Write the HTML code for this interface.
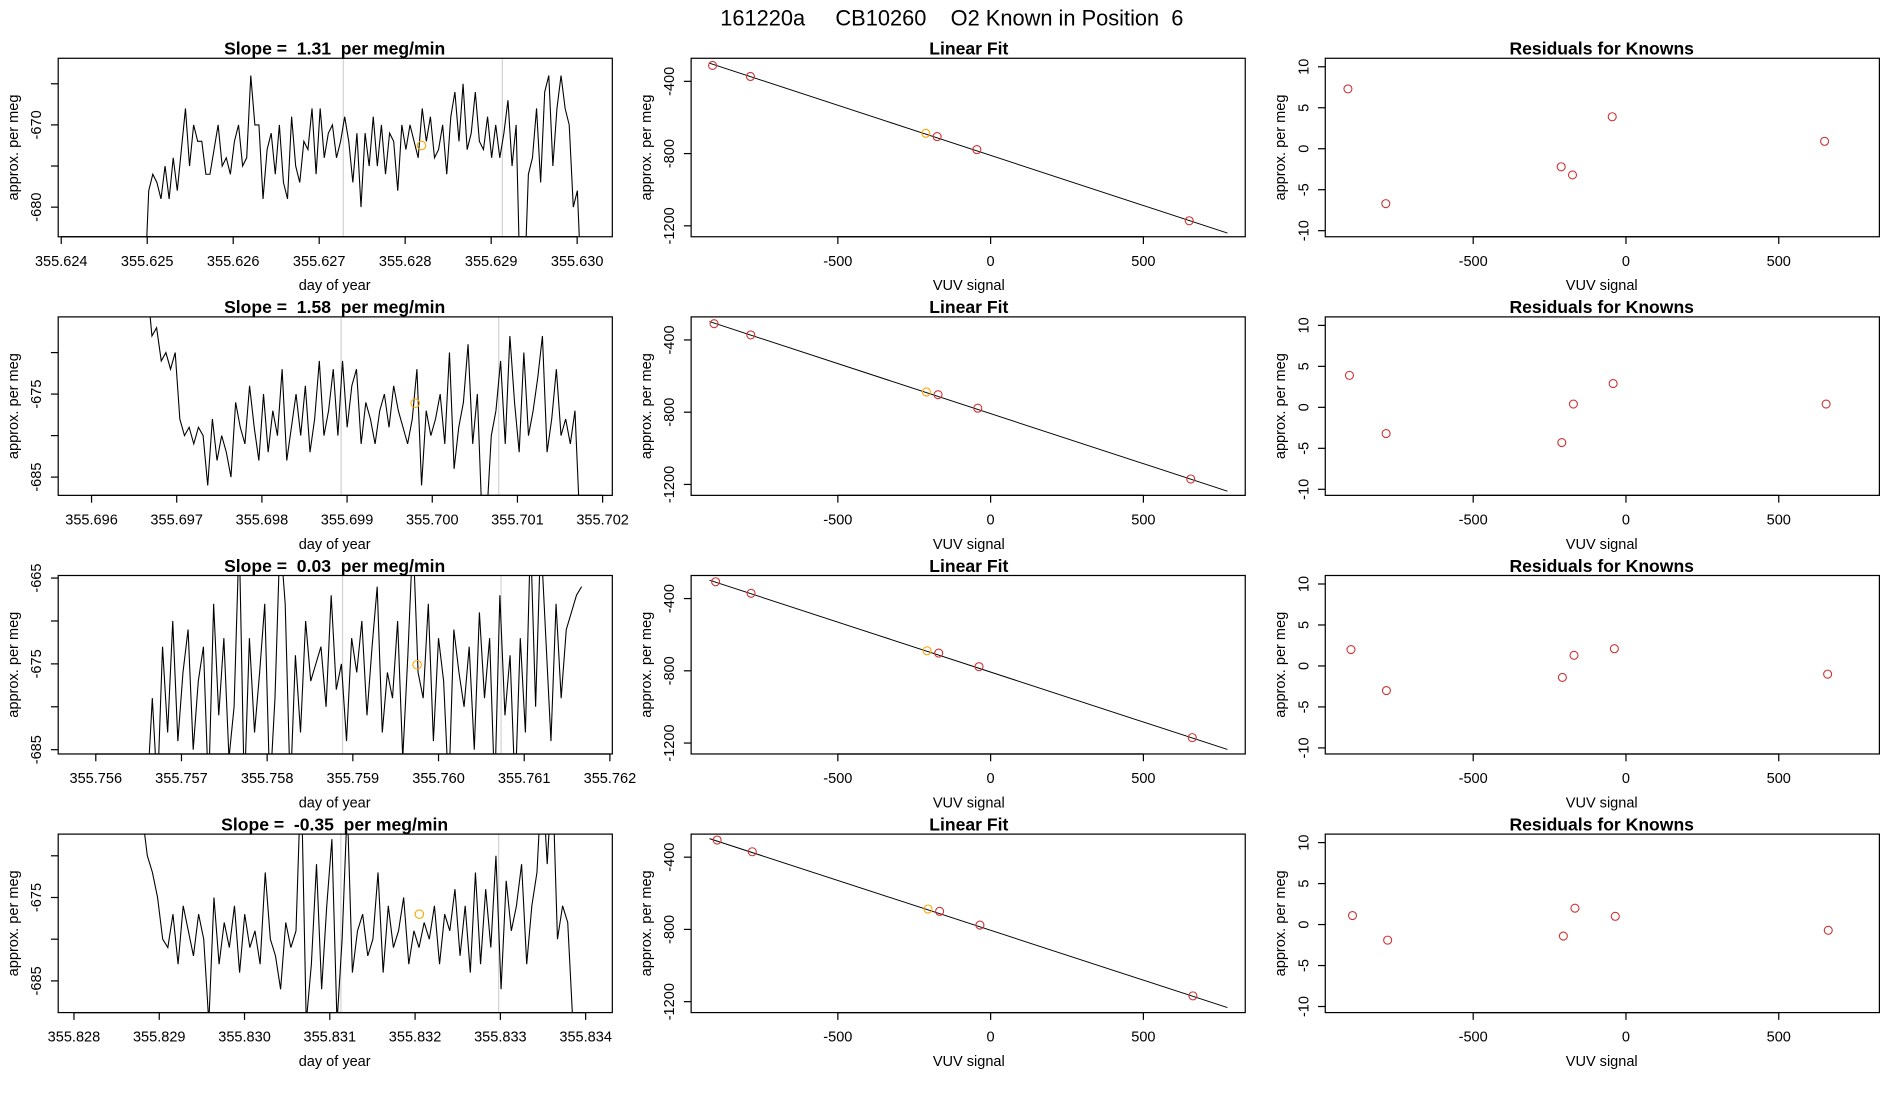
<!DOCTYPE html>
<html><head><meta charset="utf-8"><style>
html,body{margin:0;padding:0;background:#fff;}
svg{display:block;}
text{font-family:"Liberation Sans",Arial,sans-serif;fill:#000;white-space:pre;}
</style></head><body>
<svg id="fig" width="1900" height="1100" viewBox="0 0 1567 906" preserveAspectRatio="none" xmlns="http://www.w3.org/2000/svg">
<rect width="1567" height="906" fill="#fff"/>
<text x="785" y="21" font-size="18" text-anchor="middle" xml:space="preserve">161220a     CB10260    O2 Known in Position  6</text>
</svg>
<script>
// ---------- DATA ----------
const slopes = ["1.31","1.58","0.03","-0.35"];
const timeStart = [355.62497, 355.6966, 355.7566, 355.8288];
const timeEnd = [355.63005, 355.70173, 355.76167, 355.83385];
const timeTicks0 = [355.624, 355.696, 355.756, 355.828];
const yDomain0 = [[-683.6,-661.9],[-687.2,-665.7],[-685.5,-664.7],[-688.8,-667.4]];
const yTicks0 = [[-680,-675,-670,-665],[-685,-680,-675,-670],[-685,-680,-675,-670,-665],[-685,-680,-675,-670]];
const yLabels0 = [[-680,-670],[-685,-675],[-685,-675,-665],[-685,-675]];
const grayLines = [[355.62728,355.62913],[355.69893,355.70078],[355.75888,355.76073],[355.83113,355.83298]];
const orangePt = [[355.62819,-672.5],[355.6998,-676.1],[355.75975,-675.1],[355.83205,-677.0]];
const series1 = [-690,-678,-676,-677,-679,-675,-679,-674,-678,-673,-668,-675,-670,-672,-672,-676,-676,-673,-670,-675,-674,-676,-672,-670,-675,-674,-664,-670,-670,-679,-673,-671,-676,-670,-677,-679,-669,-675,-677,-672,-673,-668,-676,-668,-674,-671,-670,-674,-672,-669,-672,-677,-671,-680,-671,-675,-669,-675,-670,-676,-671,-672,-678,-670,-673,-670,-672,-674,-668,-672,-669,-674,-673,-670,-676,-669,-666,-672,-665,-673,-671,-666,-672,-673,-669,-674,-670,-674,-671,-667,-675,-670,-690,-690,-676,-674,-668,-677,-666,-664,-675,-668,-664,-668,-670,-680,-678,-690];
const series2 = [-660,-662,-668,-667,-671,-670,-672,-670,-678,-680,-679,-681,-679,-680,-686,-678,-683,-680,-682,-685,-676,-679,-681,-674,-679,-683,-675,-682,-677,-680,-672,-683,-679,-675,-680,-674,-682,-678,-671,-680,-677,-672,-680,-671,-679,-674,-672,-681,-676,-678,-681,-677,-675,-679,-674,-677,-679,-681,-678,-672,-686,-677,-680,-678,-675,-681,-670,-684,-679,-676,-669,-681,-675,-690,-690,-680,-677,-671,-681,-668,-676,-682,-670,-680,-677,-673,-668,-682,-678,-672,-680,-678,-681,-677,-690];
const series3 = [-690,-679,-690,-673,-683,-670,-684,-676,-671,-685,-677,-673,-690,-668,-681,-672,-686,-680,-660,-690,-672,-683,-676,-668,-690,-679,-660,-668,-690,-674,-683,-670,-677,-675,-673,-680,-667,-678,-675,-684,-672,-676,-670,-681,-673,-666,-683,-676,-679,-670,-686,-674,-660,-676,-679,-668,-684,-672,-677,-690,-671,-676,-680,-673,-685,-669,-679,-672,-690,-667,-681,-674,-690,-672,-683,-660,-680,-660,-672,-684,-668,-679,-671,-669,-667,-666];
const series4 = [-665,-670,-672,-675,-680,-681,-677,-683,-676,-679,-682,-677,-680,-690,-675,-683,-678,-681,-676,-684,-677,-681,-679,-683,-672,-680,-682,-686,-678,-681,-679,-660,-690,-683,-671,-686,-676,-668,-690,-680,-664,-684,-679,-677,-682,-680,-672,-684,-676,-681,-679,-675,-683,-679,-681,-678,-680,-676,-683,-677,-679,-674,-682,-676,-684,-672,-683,-674,-681,-670,-686,-673,-679,-676,-671,-683,-676,-672,-660,-671,-660,-680,-676,-678,-690];
const allSeries = [series1, series2, series3, series4];

const vuvSignal = [[-910,-786,-212,-175,-45,650],[-905,-785,-210,-172,-42,655],[-900,-784,-208,-170,-38,660],[-895,-780,-205,-167,-35,662]];
const knownVals = [[-312,-373,-688,-706,-778,-1172],[-310,-372,-688,-703,-778,-1170],[-307,-371,-689,-702,-777,-1170],[-305,-370,-687,-700,-776,-1168]];
const orangeIdx = 2;
const fitSlope = [-0.555,-0.554,-0.553,-0.552];
const fitIntercept = [-810,-808,-807,-805];
const residuals = [[7.3,-6.7,-2.2,-3.2,3.9,0.9],[3.9,-3.2,-4.3,0.4,2.9,0.4],[2.0,-3.0,-1.4,1.3,2.1,-1.0],[1.1,-1.9,-1.4,2.0,1.0,-0.7]];
const vuvTicks = [-500,0,500];
const knownTicks = [-1200,-800,-400];
const residTicks = [-10,-5,0,5,10];

// ---------- DRAWING ----------
const svg = document.getElementById('fig');
const NS = 'http://www.w3.org/2000/svg';
function mk(tag, attrs, parent){const e=document.createElementNS(NS,tag);for(const k in attrs)e.setAttribute(k,attrs[k]);(parent||svg).appendChild(e);return e;}
function txt(s, attrs, parent){const e=mk('text',attrs,parent);e.textContent=s;return e;}
const rowTop=[48,261,474,687], H=147;
const colL=[48,570,1093], W=457;
function lin(d0,d1,r0,r1){return v=>r0+(v-d0)/(d1-d0)*(r1-r0);}
const defs=mk('defs',{});

for(let r=0;r<4;r++){
  const top=rowTop[r], bot=top+H;
  {
    const L=colL[0];
    const g=mk('g',{});
    
    
    const x0px=[50.5,75.5,79,61][r], x1px=[476,497,503,483][r];
    const xs=lin(timeTicks0[r], timeTicks0[r]+0.006, x0px, x1px);
    const ys=lin(yDomain0[r][0], yDomain0[r][1], bot, top);
    const cp=mk('clipPath',{id:'c1'+r},defs); mk('rect',{x:L,y:top,width:W,height:H},cp);
    grayLines[r].forEach(t=>{const l=mk('line',{x1:xs(t),x2:xs(t),y1:top,y2:bot,stroke:'#d3d3d3','stroke-width':1},g);
      
      });
    const s=allSeries[r], t0=timeStart[r], t1=timeEnd[r];
    let d='';
    s.forEach((v,i)=>{const t=t0+(t1-t0)*i/(s.length-1);d+=(i?'L':'M')+xs(t).toFixed(2)+' '+ys(v).toFixed(2);});
    const p=mk('path',{d:d,fill:'none',stroke:'#000','stroke-width':0.9,'clip-path':'url(#c1'+r+')'},g);
    
    
    const oc=mk('circle',{cx:xs(orangePt[r][0]),cy:ys(orangePt[r][1]),r:3.5,fill:'none',stroke:'orange','stroke-width':0.9},g);
    
    
    const box=mk('rect',{x:L,y:top,width:W,height:H,fill:'none',stroke:'#000','stroke-width':1},g);
    
    
    for(let i=0;i<=6;i++){const t=timeTicks0[r]+i*0.001, px=xs(t);
      mk('line',{x1:px,x2:px,y1:bot,y2:bot+6,stroke:'#000'},g);
      const tl=txt(t.toFixed(3),{x:px,y:bot+24,'font-size':12,'text-anchor':'middle'},g);
      
      }
    mk('line',{x1:xs(timeTicks0[r]),x2:xs(timeTicks0[r]+0.006),y1:bot,y2:bot,stroke:'#000'},g);
    const xt=txt('day of year',{x:276,y:bot+44,'font-size':12,'text-anchor':'middle'},g);
    
    
    yTicks0[r].forEach(v=>{const py=ys(v);mk('line',{x1:L-6,x2:L,y1:py,y2:py,stroke:'#000'},g);});
    yLabels0[r].forEach(v=>{const py=ys(v);const tl=txt(String(v),{x:L-14,y:py,'font-size':12,'text-anchor':'middle',transform:`rotate(-90 ${L-14} ${py})`},g);
      
      });
    const yt=txt('approx. per meg',{x:15,y:top+H/2,'font-size':12,'text-anchor':'middle',transform:`rotate(-90 15 ${top+H/2})`},g);
    
    
    const ti=txt('Slope =  '+slopes[r]+'  per meg/min',{x:276,y:top-3,'font-size':14.5,'font-weight':'bold','text-anchor':'middle'},g);
    
    
  }
  {
    const L=colL[1];
    const g=mk('g',{});
    
    
    const xs=lin(0,500,817,943);
    const ys=lin(-400,-1200,top+19,top+138);
    const cp=mk('clipPath',{id:'c2'+r},defs); mk('rect',{x:L,y:top,width:W,height:H},cp);
    const xa=-920, xb=775;
    const fl=mk('line',{x1:xs(xa),y1:ys(fitIntercept[r]+fitSlope[r]*xa),x2:xs(xb),y2:ys(fitIntercept[r]+fitSlope[r]*xb),stroke:'#000','stroke-width':0.8,'clip-path':'url(#c2'+r+')'},g);
    
    
    vuvSignal[r].forEach((v,i)=>{const c=mk('circle',{cx:xs(v),cy:ys(knownVals[r][i]),r:3.3,fill:'none',stroke:i===orangeIdx?'orange':'#cd3333','stroke-width':0.9},g);
      
      });
    const box=mk('rect',{x:L,y:top,width:W,height:H,fill:'none',stroke:'#000','stroke-width':1},g);
    
    
    vuvTicks.forEach(v=>{const px=xs(v);mk('line',{x1:px,x2:px,y1:bot,y2:bot+6,stroke:'#000'},g);
      const tl=txt(String(v),{x:px,y:bot+24,'font-size':12,'text-anchor':'middle'},g);
      
      });
    mk('line',{x1:xs(-500),x2:xs(500),y1:bot,y2:bot,stroke:'#000'},g);
    knownTicks.forEach(v=>{const py=ys(v);mk('line',{x1:L-6,x2:L,y1:py,y2:py,stroke:'#000'},g);
      const tl=txt(String(v),{x:L-14,y:py,'font-size':12,'text-anchor':'middle',transform:`rotate(-90 ${L-14} ${py})`},g);
      
      });
    const xt=txt('VUV signal',{x:799,y:bot+44,'font-size':12,'text-anchor':'middle'},g);
    
    
    const yt=txt('approx. per meg',{x:537,y:top+H/2,'font-size':12,'text-anchor':'middle',transform:`rotate(-90 537 ${top+H/2})`},g);
    
    
    const ti=txt('Linear Fit',{x:799,y:top-3,'font-size':14.5,'font-weight':'bold','text-anchor':'middle'},g);
    
    
  }
  {
    const L=colL[2];
    const g=mk('g',{});
    
    
    const xs=lin(0,500,1341,1467);
    const ys=lin(10,-10,top+7,top+142);
    vuvSignal[r].forEach((v,i)=>{const c=mk('circle',{cx:xs(v),cy:ys(residuals[r][i]),r:3.3,fill:'none',stroke:'#cd3333','stroke-width':0.9},g);
      
      });
    const box=mk('rect',{x:L,y:top,width:W,height:H,fill:'none',stroke:'#000','stroke-width':1},g);
    
    
    vuvTicks.forEach(v=>{const px=xs(v);mk('line',{x1:px,x2:px,y1:bot,y2:bot+6,stroke:'#000'},g);
      const tl=txt(String(v),{x:px,y:bot+24,'font-size':12,'text-anchor':'middle'},g);
      
      });
    mk('line',{x1:xs(-500),x2:xs(500),y1:bot,y2:bot,stroke:'#000'},g);
    residTicks.forEach(v=>{const py=ys(v);mk('line',{x1:L-6,x2:L,y1:py,y2:py,stroke:'#000'},g);
      const tl=txt(String(v),{x:L-14,y:py,'font-size':12,'text-anchor':'middle',transform:`rotate(-90 ${L-14} ${py})`},g);
      
      });
    const xt=txt('VUV signal',{x:1321,y:bot+44,'font-size':12,'text-anchor':'middle'},g);
    
    
    const yt=txt('approx. per meg',{x:1060,y:top+H/2,'font-size':12,'text-anchor':'middle',transform:`rotate(-90 1060 ${top+H/2})`},g);
    
    
    const ti=txt('Residuals for Knowns',{x:1321,y:top-3,'font-size':14.5,'font-weight':'bold','text-anchor':'middle'},g);
    
    
  }
}
</script>
</body></html>
